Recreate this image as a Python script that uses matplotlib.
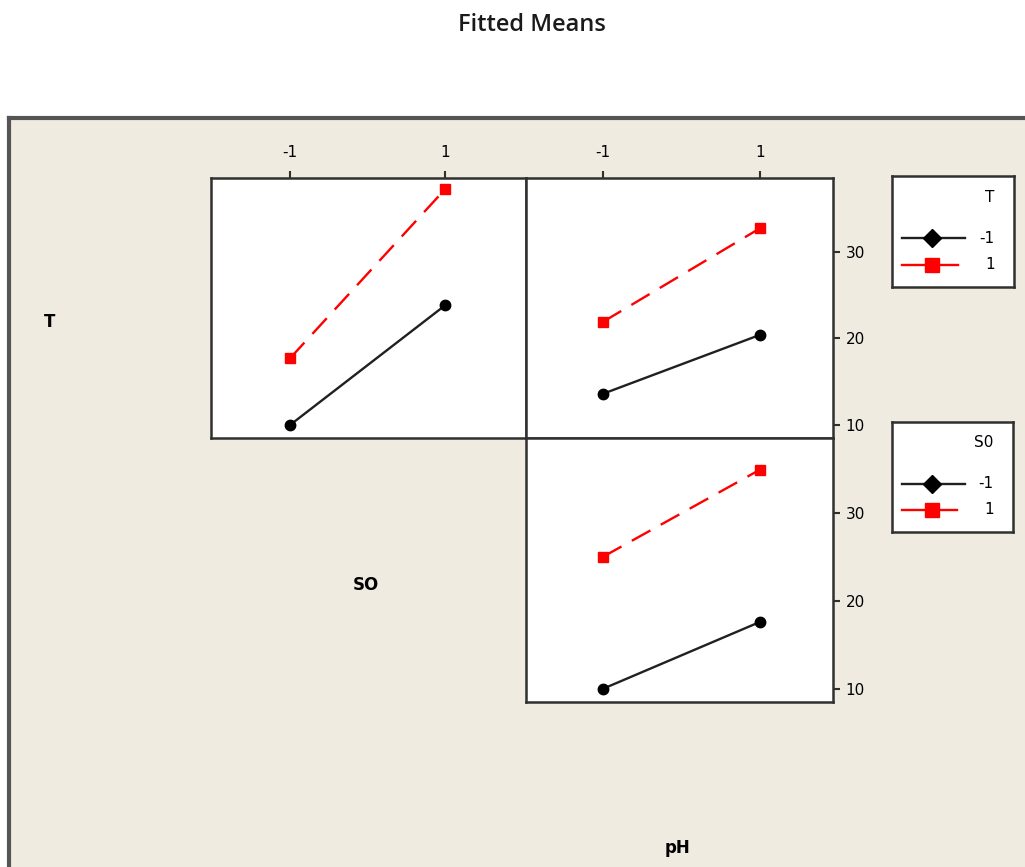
import matplotlib
matplotlib.use("Agg")
import matplotlib.pyplot as plt
import matplotlib.patches as patches
from matplotlib.lines import Line2D

W, H = 1025, 867

levels = [-1, 1]
# T x SO (x = SO, lines by T)
t_so_low = [10.0, 23.8]
t_so_high = [17.7, 37.2]
# T x pH (x = pH, lines by T)
t_ph_low = [13.6, 20.4]
t_ph_high = [21.9, 32.7]
# SO x pH (x = pH, lines by SO)
so_ph_low = [10.0, 17.6]
so_ph_high = [25.0, 34.9]

y_ticks = [10, 20, 30]
x_ticklabels = ["-1", "1"]
legend_labels = ["-1", "1"]

bg = "#efebe0"
tick_font = ["Liberation Sans Narrow", "DejaVu Sans"]


def box(x0, y0, x1, y1):
    # pixel box -> figure fractions
    return [x0 / W, 1 - y1 / H, (x1 - x0) / W, (y1 - y0) / H]


def panel(rect, xlim, low, high):
    ax = fig.add_axes(rect)
    ax.plot(levels, low, color="#202020", lw=1.7, marker="o", ms=7.5, mfc="black", mec="black")
    ax.plot(levels, high, color="red", lw=1.7, ls=(0, (9, 5)), marker="s", ms=7.5, mfc="red", mec="red")
    ax.set_xlim(xlim)
    ax.set_ylim(8.5, 38.5)
    ax.set_facecolor("white")
    for s in ax.spines.values():
        s.set_linewidth(1.8)
        s.set_color("#303030")
    ax.tick_params(direction="out", length=5, width=1.5, color="#303030",
                   labelsize=11, top=False, bottom=False, left=False, right=False,
                   labeltop=False, labelbottom=False, labelleft=False, labelright=False)
    return ax


fig = plt.figure(figsize=(W / 100, H / 100), dpi=100)
fig.patch.set_facecolor("white")

# beige graph region with dark border top/left
fig.add_artist(patches.Rectangle((9 / W, 0), 1, 1 - 118 / H, transform=fig.transFigure,
                                 fc=bg, ec="none", zorder=0))
fig.add_artist(Line2D([9 / W, 1], [1 - 118 / H] * 2, transform=fig.transFigure,
                      color="#555555", lw=3, zorder=1))
fig.add_artist(Line2D([9 / W, 9 / W], [0, 1 - 118 / H], transform=fig.transFigure,
                      color="#555555", lw=3, zorder=1))

fig.text(532 / W, 1 - 25 / H, "Fitted Means", ha="center", va="center",
         fontsize=17, family=["Open Sans", "DejaVu Sans"], fontweight="semibold",
         color="#1a1a1a")

ax1 = panel(box(211, 178, 526, 438), (-2.02, 2.045), t_so_low, t_so_high)
ax2 = panel(box(526, 178, 833, 438), (-1.98, 1.93), t_ph_low, t_ph_high)
ax3 = panel(box(526, 438, 833, 702), (-1.98, 1.93), so_ph_low, so_ph_high)

for ax in (ax1, ax2):
    ax.set_xticks(levels)
    ax.set_xticklabels(x_ticklabels, family=tick_font)
    ax.tick_params(axis="x", top=True, labeltop=True, pad=8)
for ax in (ax2, ax3):
    ax.set_yticks(y_ticks)
    ax.set_yticklabels([str(v) for v in y_ticks], family=tick_font)
    ax.tick_params(axis="y", right=True, labelright=True, pad=4)

lab_kw = dict(ha="center", va="center", fontsize=12, fontweight="bold",
              family=["DejaVu Sans"])
fig.text(50 / W, 1 - 322 / H, "T", **lab_kw)
fig.text(366 / W, 1 - 585 / H, "SO", **lab_kw)
fig.text(677 / W, 1 - 848 / H, "pH", **lab_kw)


def legend_box(rect, title):
    lax = fig.add_axes(rect)
    lax.set_xlim(0, 1)
    lax.set_ylim(0, 1)
    lax.set_xticks([])
    lax.set_yticks([])
    lax.set_facecolor("white")
    for s in lax.spines.values():
        s.set_linewidth(1.8)
        s.set_color("#303030")
    lax.text(0.84, 0.81, title, ha="right", va="center", fontsize=11, family=tick_font)
    lax.plot([0.08, 0.60], [0.44, 0.44], color="#202020", lw=1.7)
    lax.plot([0.33], [0.44], marker="D", ms=9, color="black")
    lax.plot([0.08, 0.54], [0.20, 0.20], color="red", lw=1.7)
    lax.plot([0.33], [0.20], marker="s", ms=10, color="red")
    lax.text(0.84, 0.44, legend_labels[0], ha="right", va="center", fontsize=11, family=tick_font)
    lax.text(0.84, 0.20, legend_labels[1], ha="right", va="center", fontsize=11, family=tick_font)


legend_box(box(892, 176, 1014, 287), "T")
legend_box(box(892, 422, 1013, 532), "S0")

fig.savefig("out.png", dpi=100, facecolor=fig.get_facecolor())
